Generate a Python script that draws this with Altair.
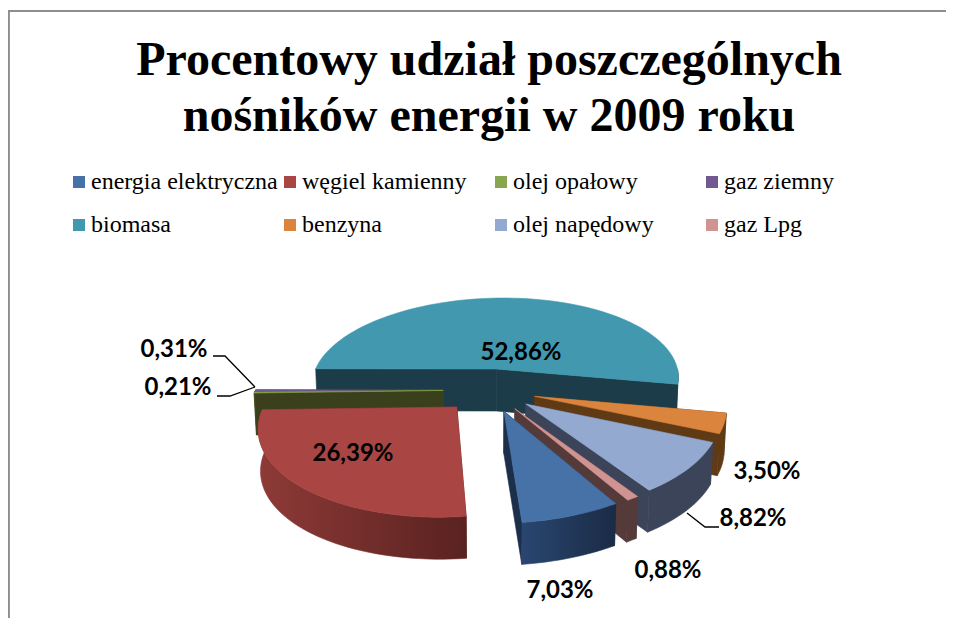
import math
import altair as alt
import pandas as pd

names = ["energia elektryczna", "węgiel kamienny", "olej opałowy", "gaz ziemny",
         "biomasa", "benzyna", "olej napędowy", "gaz Lpg"]
values = [7.03, 26.39, 0.21, 0.31, 52.86, 3.50, 8.82, 0.88]
top_colors = ["#4672A8", "#A94543", "#89A54E", "#71588F", "#4198AF", "#DB843D", "#93A9CF", "#D19392"]
cut_colors = ["#1B2E4A", "#5A2321", "#3B401C", "#3A2D4C", "#1B3C48", "#5F3A14", "#3B4459", "#553A3A"]
rim_from = ["#2A4670", "#8E3A37", "#4A5228", "#4A3A60", "#1B3C48", "#5F3A14", "#3B4459", "#553A3A"]
rim_to = ["#1A2B45", "#592220", "#3B401C", "#3A2D4C", "#1B3C48", "#5F3A14", "#3B4459", "#553A3A"]
paint_order = [4, 3, 2, 1, 5, 6, 7, 0]

label_text = ["7,03%", "26,39%", "0,21%", "0,31%", "52,86%", "3,50%", "8,82%", "0,88%"]
label_x = [560, 353, 178, 174, 521, 767, 753, 668]
label_y = [591, 454, 388, 350, 353, 472, 519, 571]

leader_id = ["a", "a", "a", "b", "b", "b", "c", "c", "c"]
leader_x = [213, 225, 255, 217, 230, 255, 687, 705, 719]
leader_y = [356, 356, 387, 396, 396, 387, 513, 527, 527]

title_lines = ["Procentowy udział poszczególnych", "nośników energii w 2009 roku"]

# pie geometry
START, EXPLODE, DEPTH = 148.0, 0.249, 42.0
X0, Y0, RX, RY, K, CV, SHEAR = 491.0, 381.5, 185.0, 85.1, 0.15, 0.098, 9.0


def project(u, v, low=False):
    s = 1 / (1 - K * v)
    x = X0 + RX * u * s - SHEAR * v * s
    y = Y0 + RY * v * s
    if low:
        x = X0 + (x - X0) * 0.99
        y += DEPTH
    return x, y


def rim(cu, cv, a, b, low=False):
    n = max(2, int(abs(b - a) / 2) + 2)
    pts = []
    for i in range(n):
        t = math.radians(a + (b - a) * i / (n - 1))
        pts.append(project(cu + math.sin(t), cv - math.cos(t), low))
    return pts


def polygon(pts):
    return pd.DataFrame({"x": [p[0] for p in pts], "y": [p[1] for p in pts], "i": range(len(pts))})


xs = alt.Scale(domain=[8, 946], range=[0, 938])
ys = alt.Scale(domain=[618, 8], range=[610, 0])
X = alt.X("x:Q", scale=xs, axis=None)
Y = alt.Y("y:Q", scale=ys, axis=None)


def face(pts, fill):
    return alt.Chart(polygon(pts)).mark_line(
        interpolate="linear-closed", fill=fill, stroke=fill, strokeWidth=0.6
    ).encode(x=X, y=Y, order="i:Q")


angles = []
acc = START
for val in values:
    angles.append((acc, acc + val * 3.6))
    acc += val * 3.6

layers = []
for k in paint_order:
    a, b = angles[k]
    mid = math.radians((a + b) / 2)
    cu = EXPLODE * math.sin(mid)
    cv = CV - EXPLODE * math.cos(mid)
    for edge in (a, b):
        t = math.radians(edge)
        ru, rv = cu + math.sin(t), cv - math.cos(t)
        pts = [project(cu, cv), project(ru, rv), project(ru, rv, True), project(cu, cv, True)]
        layers.append(face(pts, cut_colors[k]))
    spans = [(a, b), (a - 360, b - 360)]
    for s0, s1 in spans:
        lo, hi = max(s0, 90), min(s1, 270)
        if hi > lo:
            grad = alt.LinearGradient(
                gradient="linear", x1=0, x2=1, y1=0, y2=0,
                stops=[alt.GradientStop(color=rim_from[k], offset=0),
                       alt.GradientStop(color=rim_to[k], offset=1)])
            pts = rim(cu, cv, lo, hi) + rim(cu, cv, hi, lo, True)
            layers.append(face(pts, grad))
    pts = [project(cu, cv)] + rim(cu, cv, a, b)
    layers.append(face(pts, top_colors[k]))

frame = alt.Chart(pd.DataFrame({"x": [8.9, 8.9, 946], "y": [618, 11, 11], "i": [0, 1, 2]})).mark_line(
    color="#8E8E8E", strokeWidth=2).encode(x=X, y=Y, order="i:Q")

leaders = alt.Chart(pd.DataFrame({"x": leader_x, "y": leader_y, "id": leader_id,
                                  "i": range(len(leader_x))})).mark_line(
    color="#000000", strokeWidth=1.3).encode(x=X, y=Y, detail="id:N", order="i:Q")

labels_df = pd.DataFrame({"x": label_x, "y": label_y, "t": label_text, "name": names})
labels = alt.Chart(labels_df).mark_text(
    font="Lato", fontWeight="bold", fontSize=24, color="#000000", align="center", baseline="middle"
).encode(x=X, y=Y, text="t:N")

legend_layer = alt.Chart(labels_df).mark_square(opacity=0, size=10).encode(
    x=X, y=Y,
    color=alt.Color("name:N", scale=alt.Scale(domain=names, range=top_colors),
                    legend=alt.Legend(
                        orient="none", legendX=59, legendY=161, columns=4, gridAlign="all",
                        direction="horizontal",
                        title=None, symbolType="square", symbolSize=144, symbolStrokeWidth=0,
                        symbolOpacity=1, labelFont="Liberation Serif", labelFontSize=24,
                        labelColor="#000000", labelLimit=400, labelOffset=0, padding=0,
                        columnPadding=0, rowPadding=17, clipHeight=26)))

chart = alt.layer(frame, *layers, leaders, labels, legend_layer).properties(
    width=938, height=610, padding=0, autosize=alt.AutoSizeParams(type="none"),
    background="#FFFFFF",
    title=alt.TitleParams(text=title_lines, orient="top", anchor="middle", align="center", baseline="top",
                          font="Liberation Serif", fontWeight="bold", fontSize=48, lineHeight=56,
                          color="#000000", dx=12, dy=134, offset=0)
).configure_view(stroke=None)

chart.save("out.html", embed_options={"renderer": "svg", "actions": False})
